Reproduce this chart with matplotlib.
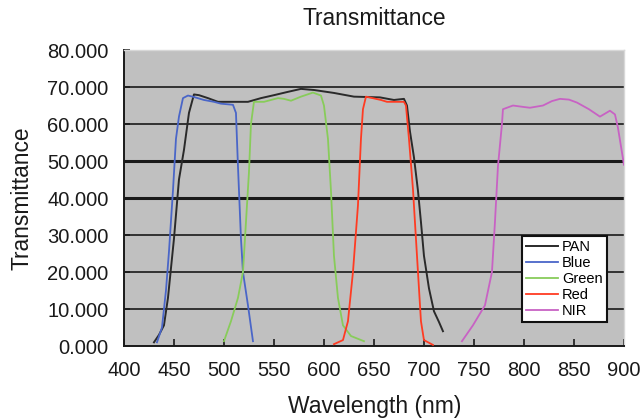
import matplotlib
matplotlib.use("Agg")
import matplotlib.pyplot as plt

plt.rcParams['font.family'] = ['Liberation Sans', 'DejaVu Sans']

# spectral response curves
pan_x = [430, 435, 440, 444, 450, 455, 460, 465, 470, 475, 484, 494, 510, 524, 537, 550, 564, 577,
         590, 600, 610, 630, 656, 670, 680, 683, 686, 690, 694, 697, 700, 705, 710, 715, 719]
pan_y = [1.0, 3.0, 5.6, 13, 29, 45, 53, 63, 68, 67.8, 67, 66, 66, 66, 67, 67.8, 68.7, 69.5,
         69.2, 68.8, 68.4, 67.4, 67.2, 66.5, 66.8, 65, 58, 51, 42, 33.5, 24.4, 15.6, 9.4, 6.5, 4]

blue_x = [433, 438, 442, 445, 449, 452, 455, 459, 464, 470, 480, 490, 497, 505, 509, 512, 514,
          517, 519, 524, 529]
blue_y = [1, 5, 15, 25.5, 42, 56, 62, 67, 67.7, 67.3, 66.5, 66, 65.5, 65.3, 65.2, 63, 48.6,
          29, 20, 11, 1.3]

green_x = [500, 507, 514, 519, 522, 525, 527, 530, 540, 554, 560, 567, 577, 589, 597, 600, 604,
           607, 610, 614, 619, 627, 640]
green_y = [1.3, 6.7, 13, 20, 33.5, 47, 60, 66, 66, 67, 66.8, 66.3, 67.4, 68.5, 67.7, 65, 56,
           42, 24.4, 13, 5.6, 2.7, 1.3]

red_x = [610, 619, 624, 629, 634, 637, 639, 642, 657, 663, 670, 680, 682, 685, 689, 692, 695,
         697, 700, 709]
red_y = [0.5, 1.6, 6.7, 20, 38, 56, 64, 67.4, 66.5, 66, 66, 66, 65, 56, 42.4, 29, 15.6,
         6.7, 1.6, 0.3]

nir_x = [738, 749, 761, 768, 771, 774, 778, 779, 789, 800, 806, 819, 828, 836, 845, 853, 865,
         876, 886, 891, 894, 897, 900]
nir_y = [1.3, 5.6, 11, 20, 33.5, 48.6, 60, 64, 65, 64.6, 64.4, 65, 66.2, 66.8, 66.6, 65.8, 64,
         62, 63.6, 62.6, 59, 54, 49]

fig = plt.figure(figsize=(6.41, 4.19), dpi=100)
ax = fig.add_axes([0.1934, 0.1742, 0.78, 0.7064])
ax.set_facecolor('#c0c0c0')

# gridlines, 40 and 50 drawn heavier like in the original
for v in range(10, 80, 10):
    lw = 2.2 if v in (40, 50) else 1.2
    ax.axhline(v, color='#1a1a1a', lw=lw, zorder=1)

ax.plot(pan_x, pan_y, color='#2a2a2a', lw=1.4, label='PAN', zorder=3)
ax.plot(blue_x, blue_y, color='#4a66c8', lw=1.3, label='Blue', zorder=3)
ax.plot(green_x, green_y, color='#88cc5a', lw=1.3, label='Green', zorder=3)
ax.plot(red_x, red_y, color='#ff3b22', lw=1.3, label='Red', zorder=4)
ax.plot(nir_x, nir_y, color='#c862c4', lw=1.3, label='NIR', zorder=3)

ax.set_xlim(400, 900)
ax.set_ylim(0, 80)
ax.set_xticks(range(400, 901, 50))
ax.set_yticks(range(0, 81, 10))
ax.set_yticklabels(['%.3f' % v for v in range(0, 81, 10)])
ax.tick_params(axis='x', direction='in', length=5, width=1.2, labelsize=14.5, pad=11, colors='#1a1a1a')
ax.tick_params(axis='y', direction='in', length=4, width=1.2, labelsize=14.5, pad=11, colors='#1a1a1a')

for s in ('left', 'bottom'):
    ax.spines[s].set_color('#1a1a1a')
    ax.spines[s].set_linewidth(1.4)
for s in ('top', 'right'):
    ax.spines[s].set_color('#d8d8d8')
    ax.spines[s].set_linewidth(1.0)

fig.text(0.5835, 0.955, 'Transmittance', fontsize=16.4, ha='center', va='center', color='#1a1a1a')
fig.text(0.585, 0.029, 'Wavelength (nm)', fontsize=16.5, ha='center', va='center', color='#1a1a1a')
fig.text(0.034, 0.527, 'Transmittance', fontsize=16.4, ha='center', va='center',
         rotation=90, color='#1a1a1a')

leg = ax.legend(loc='lower right', bbox_to_anchor=(0.966, 0.081), fontsize=10.5,
                frameon=True, fancybox=False, framealpha=1, edgecolor='#111111',
                handlelength=2.2, handletextpad=0.25, labelspacing=0.13, borderpad=0.3,
                borderaxespad=0)
leg.get_frame().set_linewidth(1.5)
leg.set_zorder(5)

fig.savefig('out.png', dpi=100)
